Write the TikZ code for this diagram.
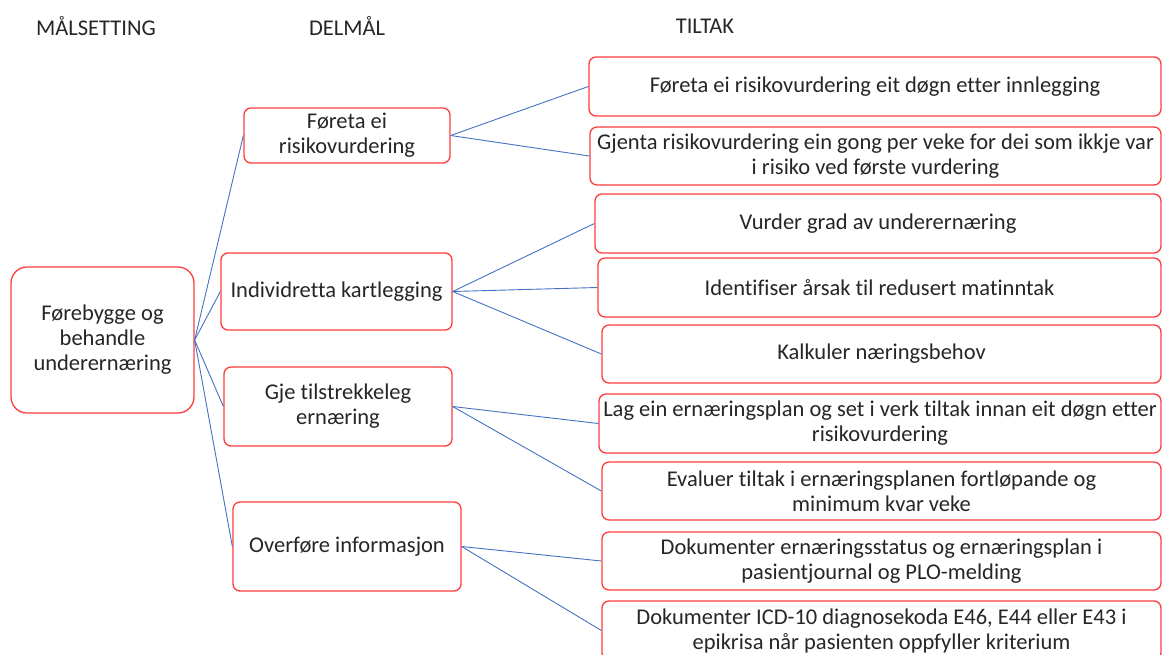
\documentclass[tikz,border=0pt]{standalone}
\usepackage{fontspec}
\setmainfont[Ligatures=NoCommon]{Carlito}
\definecolor{boxred}{RGB}{255,60,60}
\definecolor{linkblue}{RGB}{68,114,196}
\begin{document}
\begin{tikzpicture}[x=1pt,y=-1pt,
  every node/.style={font=\fontsize{22.5}{25}\selectfont,align=center,text=black!85},
  box/.style={draw=boxred,fill=white,line width=1.3pt,rounded corners=7pt,inner sep=1pt},
  link/.style={draw=linkblue,line width=0.9pt}]
\useasboundingbox (0,0) rectangle (1163,654);
\node (hmaal) at (96,26) {MÅLSETTING};
\node (hdel) at (347,26) {DELMÅL};
\node (htil) at (705,26) {TILTAK};
\node[box,rounded corners=16pt,minimum width=183,minimum height=146] (maal) at (102.5,340) {Førebygge og\\behandle\\underernæring};
\node[box,minimum width=206,minimum height=55] (risiko) at (347,135.5) {Føreta ei\\risikovurdering};
\node[box,minimum width=231,minimum height=77] (kartl) at (336.5,291.5) {Individretta kartlegging};
\node[box,minimum width=228,minimum height=79] (ernaer) at (338,406.5) {Gje tilstrekkeleg\\ernæring};
\node[box,minimum width=228,minimum height=89] (info) at (347,546.5) {Overføre informasjon};
\node[box,minimum width=572,minimum height=59] (t1) at (875,86.5) {Føreta ei risikovurdering eit døgn etter innlegging};
\node[box,minimum width=571,minimum height=58] (t2) at (875.5,156) {Gjenta risikovurdering ein gong per veke for dei som ikkje var\\i risiko ved første vurdering};
\node[box,minimum width=566,minimum height=59] (t3) at (878,223.5) {Vurder grad av underernæring};
\node[box,minimum width=563,minimum height=59] (t4) at (879.5,287.5) {Identifiser årsak til redusert matinntak};
\node[box,minimum width=559,minimum height=58] (t5) at (881.5,354) {Kalkuler næringsbehov};
\node[box,minimum width=562,minimum height=59] (t6) at (880,423.5) {Lag ein ernæringsplan og set i verk tiltak innan eit døgn etter\\risikovurdering};
\node[box,minimum width=559,minimum height=58] (t7) at (881.5,491) {Evaluer tiltak i ernæringsplanen fortløpande og\\minimum kvar veke};
\node[box,minimum width=559,minimum height=58] (t8) at (881.5,561) {Dokumenter ernæringsstatus og ernæringsplan i\\pasientjournal og PLO-melding};
\node[box,minimum width=559,minimum height=59] (t9) at (881.5,630.5) {Dokumenter ICD-10 diagnosekoda E46, E44 eller E43 i\\epikrisa når pasienten oppfyller kriterium};
\foreach \d in {risiko,kartl,ernaer,info}
  \draw[link] (maal.east) -- (\d.west);
\foreach \a/\b in {risiko/t1,risiko/t2,kartl/t3,kartl/t4,kartl/t5,ernaer/t6,ernaer/t7,info/t8,info/t9}
  \draw[link] (\a.east) -- (\b.west);
\end{tikzpicture}
\end{document}
